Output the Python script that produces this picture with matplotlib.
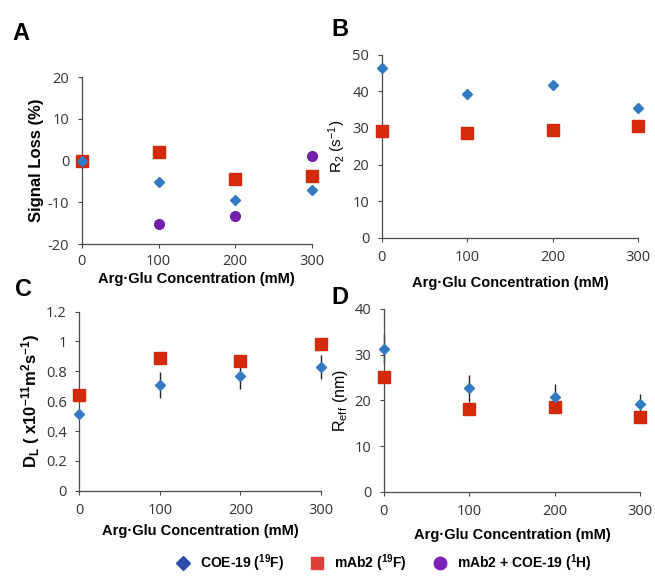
import matplotlib
matplotlib.use("Agg")
import matplotlib.pyplot as plt
from matplotlib.lines import Line2D

# concentration (mM)
conc = [0, 100, 200, 300]

# A: signal loss (%)
loss_coe = [0, -5.0, -9.4, -7.0]
loss_mab = [0, 2.1, -4.3, -3.6]
loss_mix = [0, -15.1, -13.3, 1.2]

# B: R2 (s-1)
r2_coe = [46.3, 39.2, 41.8, 35.4]
r2_mab = [29.2, 28.5, 29.5, 30.6]

# C: DL (x10^-11 m2 s-1)
dl_coe = [0.512, 0.708, 0.769, 0.827]
dl_coe_err = [0.0, 0.085, 0.09, 0.08]
dl_mab = [0.639, 0.887, 0.871, 0.983]

# D: Reff (nm)
reff_coe = [31.3, 22.6, 20.8, 19.3]
reff_coe_err = [3.4, 3.0, 2.7, 2.0]
reff_mab = [25.2, 18.2, 18.5, 16.4]

blue = "#3479c4"
red = "#d42a0c"
purple = "#7220aa"
tick_font = "Open Sans"
lab_font = "Liberation Sans"

# sub/superscripts follow the label's own font and weight
plt.rcParams["mathtext.default"] = "regular"

fig = plt.figure(figsize=(6.55, 5.76), dpi=100)

def style_axis(ax, ylim, yticks, ylabel, ysize, xpad, bold=True):
    ax.set_xlim(0, 300)
    ax.set_ylim(*ylim)
    ax.set_xticks(conc)
    ax.set_yticks(yticks)
    ax.set_yticklabels([f"{t:g}" for t in yticks])
    for s in ["top", "right"]:
        ax.spines[s].set_visible(False)
    for s in ["left", "bottom"]:
        ax.spines[s].set_color("#4a4a4a")
        ax.spines[s].set_linewidth(0.9)
    ax.tick_params(direction="out", length=3, width=0.8, color="#4a4a4a",
                   labelsize=10.5, labelcolor="#333333")
    ax.tick_params(axis="y", pad=6)
    ax.tick_params(axis="x", pad=6)
    for lbl in ax.get_xticklabels() + ax.get_yticklabels():
        lbl.set_fontfamily(tick_font)
    ax.set_xlabel("Arg·Glu Concentration (mM)", fontsize=10.5, fontweight="bold",
                  family=lab_font, labelpad=xpad)
    ax.set_ylabel(ylabel, fontsize=ysize, fontweight="bold" if bold else "normal",
                  family=lab_font, labelpad=3)

# A
axA = fig.add_axes([0.125, 0.576, 0.351, 0.290])
axA.plot(conc, loss_mix, "o", color=purple, ms=7, clip_on=False, zorder=3)
axA.plot(conc, loss_mab, "s", color=red, ms=8, clip_on=False, zorder=4)
axA.plot(conc, loss_coe, "D", color=blue, ms=5.3, clip_on=False, zorder=5)
style_axis(axA, (-20, 20), [-20, -10, 0, 10, 20], "Signal Loss (%)", 12, 1)
axA.tick_params(axis="x", pad=4)
axA.xaxis.set_label_coords(0.5, -0.165)

# B
axB = fig.add_axes([0.583, 0.587, 0.391, 0.318])
axB.plot(conc, r2_mab, "s", color=red, ms=8, clip_on=False, zorder=4)
axB.plot(conc, r2_coe, "D", color=blue, ms=5.3, clip_on=False, zorder=5)
style_axis(axB, (0, 50), [0, 10, 20, 30, 40, 50], r"R$_2$ (s$^{-1}$)", 11, 8, bold=False)

# C
axC = fig.add_axes([0.121, 0.148, 0.369, 0.311])
axC.errorbar(conc, dl_coe, yerr=dl_coe_err, fmt="none", ecolor="#222222",
             elinewidth=1, capsize=0, zorder=2, clip_on=False)
axC.plot(conc, dl_mab, "s", color=red, ms=8, clip_on=False, zorder=4)
axC.plot(conc, dl_coe, "D", color=blue, ms=5.3, clip_on=False, zorder=5)
style_axis(axC, (0, 1.2), [0, 0.2, 0.4, 0.6, 0.8, 1, 1.2],
           r"D$_L$ ( x10$^{-11}$m$^2$s$^{-1}$)", 12, 4)

# D
axD = fig.add_axes([0.586, 0.146, 0.391, 0.318])
axD.errorbar(conc, reff_coe, yerr=reff_coe_err, fmt="none", ecolor="#222222",
             elinewidth=1, capsize=0, zorder=2, clip_on=False)
axD.plot(conc, reff_mab, "s", color=red, ms=8, clip_on=False, zorder=4)
axD.plot(conc, reff_coe, "D", color=blue, ms=5.3, clip_on=False, zorder=5)
style_axis(axD, (0, 40), [0, 10, 20, 30, 40], r"R$_{eff}$ (nm)", 11.5, 6, bold=False)

# panel letters
for letter, x, y in [("A", 21, 33), ("B", 340, 30), ("C", 23, 290), ("D", 340, 298)]:
    fig.text(x / 655, 1 - y / 576, letter, fontsize=17, fontweight="bold",
             family=lab_font, ha="center", va="center")

# legend
handles = [
    Line2D([], [], marker="D", ls="none", color="#2b4ea8", ms=7),
    Line2D([], [], marker="s", ls="none", color="#e0403a", ms=9),
    Line2D([], [], marker="o", ls="none", color="#7b22b8", ms=9),
]
labels = [r"COE-19 ($^{19}$F)", r"mAb2 ($^{19}$F)", r"mAb2 + COE-19 ($^{1}$H)"]
fig.legend(handles, labels, loc="center", bbox_to_anchor=(0.585, 1 - 563 / 576),
           ncol=3, frameon=False, prop={"family": lab_font, "weight": "bold", "size": 10},
           handletextpad=0.6, columnspacing=1.8, handlelength=1.2)

fig.savefig("out.png", dpi=100)
